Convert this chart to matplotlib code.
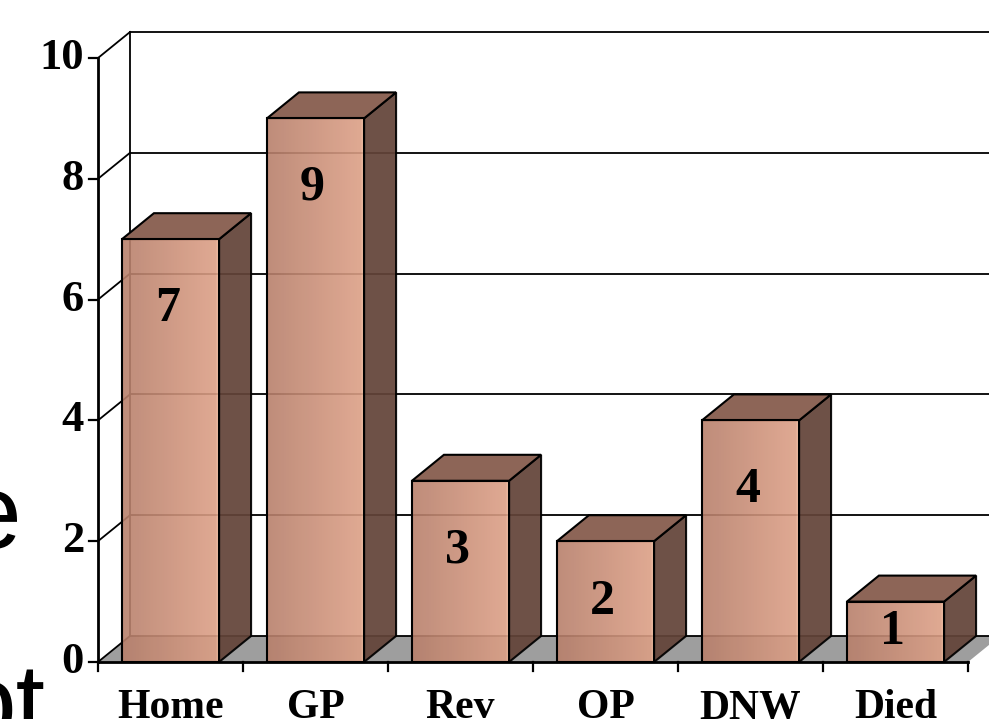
import matplotlib.pyplot as plt
import numpy as np
from matplotlib.patches import Polygon, Rectangle

categories = ['Home', 'GP', 'Rev', 'OP', 'DNW', 'Died']
counts = [7, 9, 3, 2, 4, 1]
y_ticks = [0, 2, 4, 6, 8, 10]

W, H = 989, 719
fig = plt.figure(figsize=(W / 100, H / 100), dpi=100)
ax = fig.add_axes([98 / W, 57 / H, 870 / W, 604 / H])
n = len(categories)

# pixel -> data scale (145 px per category, 60.4 px per unit)
px_x = 1 / 145
px_y = 1 / 60.4
dx = 32 * px_x   # depth of the 3d box
dy = 26 * px_y
bar_w = 0.67

serif = dict(family='Liberation Serif', weight='bold', color='black')

# floor
ax.add_patch(Polygon([(0, 0), (n, 0), (n + dx, dy), (dx, dy)], closed=True,
                     fc='#9e9e9e', ec='none', clip_on=False, zorder=1))

# back wall grid + diagonals + ticks
for t in y_ticks:
    ax.plot([dx, n + dx], [t + dy, t + dy], color='black', lw=1.3, clip_on=False, zorder=2)
    ax.plot([0, dx], [t, t + dy], color='black', lw=1.3, clip_on=False, zorder=2)
    ax.plot([-9 * px_x, 0], [t, t], color='black', lw=1.6, clip_on=False, zorder=2)
    ax.text(-14 * px_x, t, str(t), ha='right', va='center', fontsize=32, **serif)
ax.plot([dx, dx], [dy, 10 + dy], color='black', lw=1.3, clip_on=False, zorder=2)

# front axes
ax.plot([0, 0], [0, 10], color='black', lw=2, clip_on=False, zorder=2)
ax.plot([0, n], [0, 0], color='black', lw=2, clip_on=False, zorder=2)
for i in range(n + 1):
    ax.plot([i, i], [0, -9 * px_y], color='black', lw=1.6, clip_on=False, zorder=2)

# front face shading: darker at left, light strip at right edge
c_left = np.array([0.72, 0.50, 0.42])
c_right = np.array([0.87, 0.63, 0.53])
s = np.linspace(0, 1, 120)
grad = c_left[None, :] * (1 - s[:, None]) + c_right[None, :] * s[:, None]
grad[-4:] = [0.94, 0.72, 0.60]
grad = np.tile(grad[None, :, :], (40, 1, 1))

for i, v in enumerate(counts):
    x0 = i + 0.5 - bar_w / 2
    x1 = x0 + bar_w
    z = 3 + i
    ax.add_patch(Polygon([(x1, 0), (x1 + dx, dy), (x1 + dx, v + dy), (x1, v)], closed=True,
                         fc='#634439', ec='black', lw=1.5, alpha=0.93, clip_on=False, zorder=z))
    ax.add_patch(Polygon([(x0, v), (x1, v), (x1 + dx, v + dy), (x0 + dx, v + dy)], closed=True,
                         fc='#8d6557', ec='black', lw=1.5, clip_on=False, zorder=z))
    face = Rectangle((x0, 0), bar_w, v, fc='none', ec='black', lw=1.5, clip_on=False, zorder=z + 0.2)
    ax.add_patch(face)
    im = ax.imshow(grad, extent=[x0, x1, 0, v], aspect='auto', alpha=0.9,
                   interpolation='bilinear', zorder=z + 0.1)
    im.set_clip_path(face)
    ax.text(i + 0.5 - 0.02, v - min(1.15, 0.5 * v), str(v), ha='center', va='center',
            fontsize=36, zorder=20, **serif)

for i, c in enumerate(categories):
    ax.text(i + 0.5, -0.45, c, ha='center', va='top', fontsize=30, **serif)

ax.set_xlim(0, n)
ax.set_ylim(0, 10)
ax.axis('off')

# bits of the slide text cut off at the left edge
fig.text(21 / W, 1 - 548 / H, 'e', ha='right', va='baseline', fontsize=76, family='Liberation Sans')
fig.text(46 / W, 1 - 738 / H, 'ot', ha='right', va='baseline', fontsize=76, family='Liberation Sans')

fig.savefig('out.png', dpi=100)
